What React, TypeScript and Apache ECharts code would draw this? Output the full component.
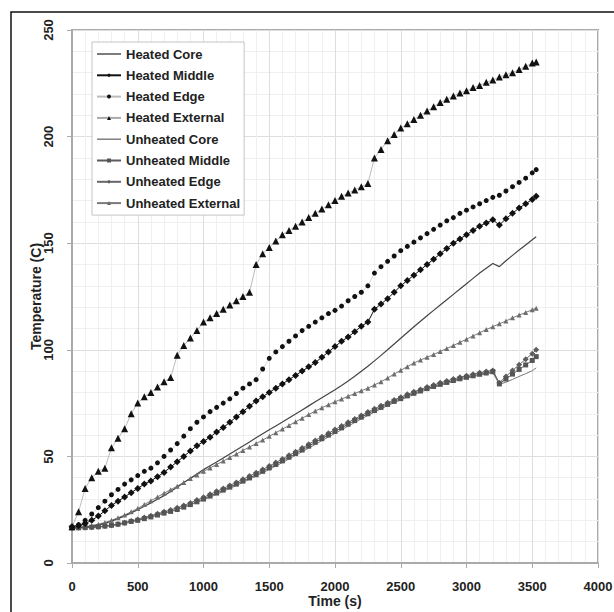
import React, { useEffect, useRef } from "react";
import * as echarts from "echarts";

const TIME = [
  0, 50, 100, 150, 200, 250, 300, 350, 400, 450,
  500, 550, 600, 650, 700, 750, 800, 850, 900, 950,
  1000, 1050, 1100, 1150, 1200, 1250, 1300, 1350, 1400, 1450,
  1500, 1550, 1600, 1650, 1700, 1750, 1800, 1850, 1900, 1950,
  2000, 2050, 2100, 2150, 2200, 2250, 2300, 2350, 2400, 2450,
  2500, 2550, 2600, 2650, 2700, 2750, 2800, 2850, 2900, 2950,
  3000, 3050, 3100, 3150, 3200, 3250, 3300, 3350, 3400, 3450,
  3500, 3530,
];

const HEATED_CORE = [
  16.5, 16.6, 16.8, 17.2, 17.8, 18.6, 19.6, 20.8, 22.1, 23.5,
  25, 26.6, 28.2, 29.9, 31.6, 33.5, 35.5, 37.7, 39.8, 41.8,
  43.8, 45.6, 47.4, 49.2, 51.1, 53, 54.9, 56.8, 58.7, 60.6,
  62.5, 64.3, 66.1, 68, 69.9, 71.8, 73.7, 75.6, 77.5, 79.4,
  81.3, 83.3, 85.4, 87.6, 89.9, 92.3, 94.8, 97.4, 100, 102.7,
  105.4, 108.1, 110.8, 113.4, 116, 118.5, 121, 123.5, 126, 128.5,
  131, 133.5, 136, 138.3, 140.5, 139, 141.8, 144.3, 146.8, 149.2,
  151.6, 153,
];

const HEATED_MIDDLE = [
  17, 17.5, 18.5, 20, 22, 24.5, 27, 29, 31, 33,
  35, 37, 38.5, 40.5, 42.5, 45, 47.5, 50, 52.5, 55,
  57, 59, 61.5, 63.5, 66, 68.5, 71, 73.5, 76, 78,
  80, 82, 84, 86, 88, 90, 92, 94, 96.5, 99,
  101.5, 104, 106, 108.5, 111, 113, 119, 121.5, 124, 127,
  130, 132.5, 135, 137.5, 140, 142.5, 145, 147.5, 150, 152,
  154, 156, 158, 159.5, 161, 158.5, 161.5, 164, 166.5, 168.5,
  170.5, 172,
];

const HEATED_EDGE = [
  17, 18, 20, 23, 26, 29, 32, 34.5, 37, 39,
  41, 43, 44.5, 47, 50, 53, 56, 59.5, 63, 66,
  68.5, 71, 73, 75, 77, 79.5, 82, 84, 86, 91,
  96, 99, 101.5, 104, 106.5, 109, 111, 113, 115, 117,
  118.5, 120.5, 123, 125, 127, 130, 136, 139, 141.5, 144,
  146.5, 148.5, 150.5, 152.5, 154.5, 156.5, 158.5, 160.5, 162, 164,
  165.5, 167, 168.5, 170, 171.5, 172.5, 174.5, 176.5, 178.5, 180.5,
  183, 184.5,
];

const HEATED_EXTERNAL = [
  17, 24, 35, 40, 43, 44.5, 54, 58.5, 63, 70,
  75, 78, 80, 82.5, 85, 87, 97.5, 102, 105.5, 109,
  113, 115, 117, 119, 121, 123, 125, 127, 140, 145,
  148, 151, 154, 156, 158, 160, 162, 164, 166, 168,
  170, 172, 173.5, 175, 176.5, 178, 190, 194, 198, 201,
  204, 206, 208, 210, 212, 214, 216, 217.5, 219, 220.5,
  221.5, 223, 224, 225.5, 226.5, 228, 229, 230, 231.5, 233,
  234.5, 235,
];

const UNHEATED_CORE = [
  16.4, 16.4, 16.5, 16.6, 16.8, 17.1, 17.5, 18, 18.6, 19.3,
  20, 20.8, 21.6, 22.4, 23.3, 24.2, 25.1, 26.1, 27.2, 28.4,
  29.6, 30.9, 32.2, 33.6, 35, 36.4, 37.8, 39.3, 40.8, 42.3,
  43.9, 45.5, 47.1, 48.8, 50.5, 52.2, 53.9, 55.6, 57.4, 59.1,
  60.8, 62.5, 64.2, 65.9, 67.6, 69.2, 70.8, 72.3, 73.8, 75.2,
  76.5, 77.8, 79, 80.2, 81.3, 82.3, 83.3, 84.2, 85.1, 85.9,
  86.7, 87.4, 88.1, 88.7, 89.3, 83.8, 84.8, 86.1, 87.5, 88.8,
  90.2, 91.5,
];

const UNHEATED_MIDDLE = [
  16.5, 16.5, 16.6, 16.8, 17, 17.3, 17.7, 18.2, 18.8, 19.5,
  20, 20.8, 21.6, 22.5, 23.4, 24.2, 25.1, 26.2, 27.4, 28.7,
  30, 31.4, 32.8, 34.2, 35.6, 37, 38.4, 39.9, 41.4, 43,
  44.6, 46.2, 47.9, 49.6, 51.3, 53, 54.8, 56.6, 58.3, 60,
  61.7, 63.4, 65.1, 66.8, 68.4, 70, 71.5, 73, 74.4, 75.8,
  77.1, 78.4, 79.6, 80.7, 81.8, 82.8, 83.8, 84.7, 85.6, 86.4,
  87.1, 87.8, 88.5, 89.1, 89.7, 84, 86.3, 88.6, 90.8, 92.9,
  95, 96.8,
];

const UNHEATED_EDGE = [
  16.5, 16.5, 16.6, 16.8, 17, 17.3, 17.7, 18.2, 18.9, 19.7,
  20.4, 21.3, 22.2, 23.1, 24, 24.9, 25.9, 27, 28.2, 29.5,
  30.8, 32.2, 33.6, 35, 36.4, 37.8, 39.3, 40.8, 42.3, 43.9,
  45.5, 47.1, 48.8, 50.5, 52.2, 53.9, 55.7, 57.5, 59.2, 60.9,
  62.6, 64.3, 66, 67.6, 69.2, 70.8, 72.3, 73.8, 75.2, 76.5,
  77.8, 79.1, 80.3, 81.4, 82.5, 83.5, 84.5, 85.4, 86.3, 87.1,
  87.8, 88.5, 89.2, 89.8, 90.3, 84.5, 87.5, 90.3, 93, 95.6,
  98.2, 100,
];

const UNHEATED_EXTERNAL = [
  16.5, 16.7, 17, 17.5, 18.2, 19, 20, 21.2, 22.5, 24,
  25.6, 27.4, 29.2, 31, 32.7, 34.4, 36, 37.8, 39.6, 41.3,
  43, 44.6, 46.2, 47.8, 49.5, 51.1, 52.8, 54.4, 56, 57.7,
  59.4, 61.1, 62.8, 64.5, 66.2, 67.9, 69.6, 71.3, 72.8, 74.2,
  75.6, 76.9, 78.2, 79.5, 80.8, 82, 83.5, 85, 86.8, 88.6,
  90.4, 92.1, 93.8, 95.2, 96.5, 97.8, 99.2, 100.6, 102, 103.5,
  105, 106.5, 108, 109.5, 110.8, 112.2, 113.5, 115, 116.3, 117.5,
  118.8, 119.5,
];

const X_TICKS = [0, 500, 1000, 1500, 2000, 2500, 3000, 3500, 4000];
const Y_TICKS = [0, 50, 100, 150, 200, 250];

const FONT = "'Liberation Sans', Arial, sans-serif";
const LINE_ICON = "path://M0,0 L24,0 L24,1.4 L0,1.4 Z";

function pairs(values: number[]) {
  return TIME.map((t, i) => [t, values[i]]);
}

export default function App() {
  const ref = useRef<HTMLDivElement>(null);

  useEffect(() => {
    if (!ref.current) return;
    const chart = echarts.init(ref.current, null, { renderer: "svg" });

    const axisCommon = {
      axisLine: { show: true, onZero: false, lineStyle: { color: "#aaaaaa", width: 2 } },
      axisTick: { show: true, length: 5, lineStyle: { color: "#aaaaaa", width: 1 } },
      splitLine: { show: true, lineStyle: { color: "#dedede", width: 1 } },
      minorSplitLine: { show: true, lineStyle: { color: "#efefef", width: 1 } },
      nameMoveOverlap: false,
      nameTextStyle: { fontWeight: "bold", fontSize: 14, color: "#222", fontFamily: FONT },
    };

    const option: any = {
      animation: false,
      backgroundColor: "#ffffff",
      textStyle: { fontFamily: FONT },
      graphic: [
        {
          type: "rect",
          z: 100,
          silent: true,
          shape: { x: 11, y: 12, width: 700, height: 700 },
          style: { fill: "none", stroke: "#111", lineWidth: 1.5 },
        },
      ],
      grid: {
        left: 72,
        top: 30,
        right: 16,
        bottom: 49,
        show: true,
        containLabel: false,
        outerBoundsMode: "none",
        borderColor: "#aaaaaa",
        borderWidth: 2,
        backgroundColor: "#ffffff",
      },
      legend: {
        orient: "vertical",
        left: 92,
        top: 42,
        padding: [5, 4, 5, 4],
        itemWidth: 24,
        itemHeight: 5,
        itemGap: 7.3,
        borderColor: "#c4c4c4",
        borderWidth: 1,
        backgroundColor: "#ffffff",
        textStyle: { fontSize: 13, fontWeight: "bold", color: "#222", fontFamily: FONT, lineHeight: 14 },
        data: [
          { name: "Heated Core", icon: LINE_ICON },
          "Heated Middle",
          "Heated Edge",
          "Heated External",
          { name: "Unheated Core", icon: LINE_ICON },
          "Unheated Middle",
          "Unheated Edge",
          "Unheated External",
        ],
      },
      xAxis: {
        type: "value",
        min: X_TICKS[0],
        max: X_TICKS[X_TICKS.length - 1],
        interval: X_TICKS[1] - X_TICKS[0],
        name: "Time (s)",
        nameLocation: "middle",
        nameGap: 31,
        minorTick: { show: false, splitNumber: 5 },
        axisLabel: {
          fontWeight: "bold",
          fontSize: 13,
          color: "#222",
          margin: 17,
          fontFamily: FONT,
          formatter: (v: number) => String(v),
        },
        ...axisCommon,
      },
      yAxis: {
        type: "value",
        min: Y_TICKS[0],
        max: Y_TICKS[Y_TICKS.length - 1],
        interval: Y_TICKS[1] - Y_TICKS[0],
        name: "Temperature (C)",
        nameLocation: "middle",
        nameRotate: 90,
        nameGap: 29,
        minorTick: { show: false, splitNumber: 5 },
        axisLabel: {
          fontWeight: "bold",
          fontSize: 13,
          color: "#222",
          margin: 17,
          rotate: 90,
          fontFamily: FONT,
          formatter: (v: number) => String(v),
        },
        ...axisCommon,
      },
      series: [
        {
          name: "Unheated External",
          type: "line",
          data: pairs(UNHEATED_EXTERNAL),
          symbol: "triangle",
          symbolSize: 5,
          itemStyle: { color: "#6e6e6e" },
          lineStyle: { color: "#7a7a7a", width: 1 },
        },
        {
          name: "Unheated Edge",
          type: "line",
          data: pairs(UNHEATED_EDGE),
          symbol: "diamond",
          symbolSize: 6,
          itemStyle: { color: "#5e5e5e" },
          lineStyle: { color: "#666", width: 1 },
        },
        {
          name: "Unheated Middle",
          type: "line",
          data: pairs(UNHEATED_MIDDLE),
          symbol: "rect",
          symbolSize: 5,
          itemStyle: { color: "#555" },
          lineStyle: { color: "#5a5a5a", width: 1 },
        },
        {
          name: "Unheated Core",
          type: "line",
          data: pairs(UNHEATED_CORE),
          symbol: "none",
          showSymbol: false,
          itemStyle: { color: "#777" },
          lineStyle: { color: "#777", width: 1 },
        },
        {
          name: "Heated Core",
          type: "line",
          data: pairs(HEATED_CORE),
          symbol: "none",
          showSymbol: false,
          itemStyle: { color: "#444" },
          lineStyle: { color: "#444", width: 1.2 },
        },
        {
          name: "Heated Middle",
          type: "line",
          data: pairs(HEATED_MIDDLE),
          symbol: "diamond",
          symbolSize: 7,
          itemStyle: { color: "#111" },
          lineStyle: { color: "#111", width: 1 },
        },
        {
          name: "Heated Edge",
          type: "line",
          data: pairs(HEATED_EDGE),
          symbol: "circle",
          symbolSize: 5,
          itemStyle: { color: "#111" },
          lineStyle: { color: "#bbbbbb", width: 0.6 },
        },
        {
          name: "Heated External",
          type: "line",
          data: pairs(HEATED_EXTERNAL),
          symbol: "triangle",
          symbolSize: 7,
          itemStyle: { color: "#111" },
          lineStyle: { color: "#aaaaaa", width: 0.8 },
        },
      ],
    };

    chart.setOption(option);
    return () => chart.dispose();
  }, []);

  return (
    <div
      ref={ref}
      style={{ position: "fixed", left: 0, top: 0, width: 614, height: 612, background: "#fff" }}
    />
  );
}
